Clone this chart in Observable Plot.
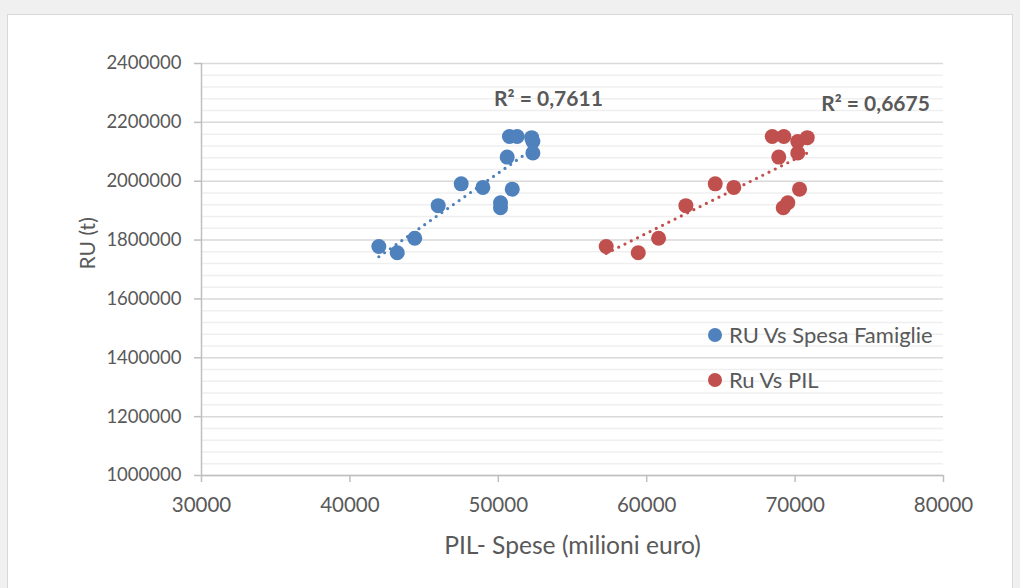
<!DOCTYPE html>
<html>
<head>
<meta charset="utf-8">
<script src="https://cdn.jsdelivr.net/npm/d3@7"></script>
<script src="https://cdn.jsdelivr.net/npm/@observablehq/plot@0.6"></script>
<style>
  html, body { margin: 0; padding: 0; background: #f0f0f0; }
  #wrap { position: relative; width: 1020px; height: 588px; overflow: hidden; font-family: Lato, "Open Sans", sans-serif; }
  #panel { position: absolute; left: 7px; top: 14px; width: 1004px; height: 600px; background: #fff; border: 1px solid #d9d9d9; }
  #chart { position: absolute; left: 0; top: 0; }
  .leg { position: absolute; left: 708px; display: flex; align-items: center; color: #595959; font-size: 22px; white-space: nowrap; line-height: 1; }
  .leg .sw { width: 14px; height: 14px; border-radius: 50%; margin-right: 7px; }
</style>
</head>
<body>
<div id="wrap">
  <div id="panel"></div>
  <div id="chart"></div>
  <div class="leg" id="leg1" style="top:324px"><span class="sw" style="background:#4f81bd"></span><span>RU Vs Spesa Famiglie</span></div>
  <div class="leg" id="leg2" style="top:369px"><span class="sw" style="background:#c0504d"></span><span>Ru Vs PIL</span></div>
</div>
<script>
// RU (t) per year, shared by both series
const ruValues   = [1778000, 1757000, 1806000, 1917000, 1991000, 1979000, 1910000, 1927000, 1973000, 2082000, 2152000, 2152000, 2135000, 2148000, 2096000];
// Spesa famiglie (milioni euro)
const spesaValues = [41950, 43190, 44370, 45950, 47500, 48960, 50150, 50150, 50940, 50600, 50750, 51270, 52330, 52250, 52330];
// PIL (milioni euro)
const pilValues   = [57270, 59430, 60800, 62640, 64620, 65870, 69200, 69510, 70300, 68900, 68460, 69240, 70180, 70820, 70180];

const xTicks = [30000, 40000, 50000, 60000, 70000, 80000];
const yTicks = [1000000, 1200000, 1400000, 1600000, 1800000, 2000000, 2200000, 2400000];
const yMinor = d3.range(1000000, 2400001, 40000).filter(v => v % 200000 !== 0);

const r2Text = ["R² = 0,7611", "R² = 0,6675"];
const r2X = [53380, 75420];
const r2Y = [2277000, 2261000];

const blue = "#4f81bd", red = "#c0504d";
const blueData = ruValues.map((y, i) => ({x: spesaValues[i], y}));
const redData = ruValues.map((y, i) => ({x: pilValues[i], y}));
const r2Data = r2Text.map((t, i) => ({text: t, x: r2X[i], y: r2Y[i]}));

const chart = Plot.plot({
  width: 1020,
  height: 588,
  marginLeft: 201,
  marginRight: 77,
  marginTop: 63,
  marginBottom: 113,
  style: {fontFamily: "Lato, 'Open Sans', sans-serif", background: "transparent", color: "#595959"},
  x: {domain: [30000, 80000]},
  y: {domain: [1000000, 2400000]},
  marks: [
    Plot.ruleY(yMinor, {stroke: "#efefef", strokeWidth: 1.5}),
    Plot.ruleY(yTicks, {stroke: "#d9d9d9", strokeWidth: 1.5}),
    Plot.ruleX([30000], {stroke: "#bfbfbf", strokeWidth: 1.5}),
    Plot.ruleY([1000000], {stroke: "#bfbfbf", strokeWidth: 1.5}),
    Plot.axisY({ticks: yTicks, tickSize: 7, tickPadding: 13, fontSize: 18.5, stroke: "#bfbfbf", fill: "#595959", strokeWidth: 1.5, tickFormat: d => String(d), label: null}),
    Plot.axisX({ticks: xTicks, tickSize: 7, tickPadding: 15, fontSize: 20.5, stroke: "#bfbfbf", fill: "#595959", strokeWidth: 1.5, tickFormat: d => String(d), label: null}),
    Plot.text(["RU (t)"], {frameAnchor: "left", dx: -113, rotate: -90, fontSize: 21, fill: "#595959"}),
    Plot.text(["PIL- Spese (milioni euro)"], {frameAnchor: "bottom", dy: 78, fontSize: 24.6, fill: "#595959"}),
    Plot.dot(blueData, {x: "x", y: "y", r: 7.5, fill: blue}),
    Plot.dot(redData, {x: "x", y: "y", r: 7.5, fill: red}),
    Plot.linearRegressionY(blueData, {x: "x", y: "y", stroke: blue, strokeWidth: 3.2, strokeDasharray: "0,7", strokeLinecap: "round", ci: 0}),
    Plot.linearRegressionY(redData, {x: "x", y: "y", stroke: red, strokeWidth: 3.2, strokeDasharray: "0,7", strokeLinecap: "round", ci: 0}),
    Plot.text(r2Data, {x: "x", y: "y", text: "text", fontSize: 21, fontWeight: "bold", fill: "#595959"})
  ]
});
document.getElementById("chart").appendChild(chart);
</script>
</body>
</html>
